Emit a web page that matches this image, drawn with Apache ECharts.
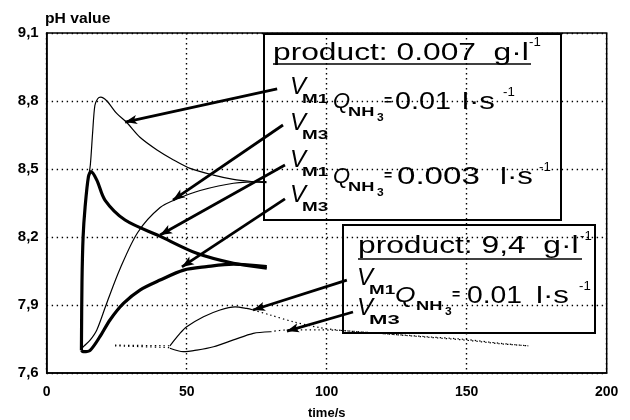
<!DOCTYPE html>
<html>
<head>
<meta charset="utf-8">
<script src="https://cdn.jsdelivr.net/npm/echarts@6/dist/echarts.min.js"></script>
<style>
  html, body { margin: 0; padding: 0; background: #fff; }
  #chart { width: 630px; height: 420px; }
</style>
</head>
<body>
<div id="chart"></div>
<script>
// Axis ranges and ticks
const timeTicks = [0, 50, 100, 150, 200];
const phTicks = [7.6, 7.9, 8.2, 8.5, 8.8, 9.1];

// Product 0.007 g/l, Q_NH3 = 0.01 l/s  — [time s, pH]
const vm1Low010 = [[12.3,7.70],[12.6,7.98],[13.1,8.20],[13.8,8.34],[14.9,8.46],[15.6,8.52],[16.4,8.66],[17.2,8.78],[18.2,8.81],[19.3,8.817],[21.5,8.80],[25,8.745],[28.6,8.705],[33.3,8.64],[39.4,8.584],[45.3,8.54],[51.2,8.503],[59.6,8.473],[66.7,8.454],[73.8,8.444],[78.5,8.44]];
const vm3Low010 = [[12.3,7.70],[13.1,7.716],[15.5,7.745],[17.9,7.79],[21.4,7.907],[26.2,8.06],[32.5,8.22],[40.5,8.33],[47,8.37],[54.8,8.405],[66.7,8.437],[78.5,8.444]];
// Product 0.007 g/l, Q_NH3 = 0.003 l/s
const vm1Low003 = [[12.4,7.70],[12.6,8.0],[13.0,8.2],[13.7,8.33],[14.9,8.466],[15.8,8.488],[17.9,8.451],[20.8,8.363],[28,8.275],[40.2,8.205],[53.6,8.128],[66.7,8.084],[78.6,8.062]];
const vm3Low003 = [[12.4,7.70],[13.1,7.694],[15.5,7.70],[19,7.76],[22.6,7.834],[27.4,7.907],[33.3,7.966],[40.5,8.01],[48.9,8.054],[57.1,8.069],[66.7,8.08],[78.6,8.069]];
// Product 9.4 g/l, Q_NH3 = 0.01 l/s (solid: measured, dotted: lead-in / trend)
const vm1HighLead = [[24.4,7.723],[44,7.72]];
const vm1High = [[44,7.72],[44.7,7.731],[47.6,7.775],[50,7.804],[56,7.848],[61.9,7.878],[67.3,7.892],[71.4,7.885],[73.8,7.878]];
const vm1HighTrend = [[73.8,7.878],[79.8,7.856],[88.1,7.826],[97.6,7.80],[106,7.787],[135.8,7.76],[148.7,7.749],[161.9,7.731],[172,7.72]];
const vm3HighLead = [[24.4,7.72],[44,7.712]];
const vm3High = [[44,7.709],[48.8,7.694],[53.6,7.701],[59.6,7.716],[66.7,7.746],[73.8,7.775],[79.8,7.782]];
const vm3HighTrend = [[79.8,7.782],[85.8,7.79],[97,7.79],[106,7.787],[135.8,7.758],[148.7,7.746],[161.9,7.729],[172,7.72]];

// Pointer arrows: label end -> curve end, in [time, pH]
const arrowFrom = [[82.3,8.853],[84.4,8.694],[85.1,8.518],[85.1,8.368],[107.2,8.010],[109.4,7.869]];
const arrowTo = [[28.0,8.707],[45.1,8.363],[40.5,8.209],[48.3,8.068],[73.7,7.878],[85.8,7.785]];

const FONT = 'Liberation Sans';

function curve(name, data, width, dotted) {
  return {
    name: name,
    type: 'line',
    data: data,
    smooth: 0.3,
    symbol: 'none',
    silent: true,
    lineStyle: { color: '#000', width: width, type: dotted ? [1.4, 3] : 'solid' }
  };
}

function txt(x, y, text, font, sx) {
  return {
    type: 'text', x: x, y: y, scaleX: sx || 1, silent: true,
    style: { text: text, font: font, fill: '#000', textAlign: 'left', textVerticalAlign: 'middle' }
  };
}
function rule(x1, y1, x2, y2, w) {
  return { type: 'line', silent: true, shape: { x1: x1, y1: y1, x2: x2, y2: y2 }, style: { stroke: '#000', lineWidth: w } };
}
function box(x, y, w, h) {
  return { type: 'rect', silent: true, shape: { x: x, y: y, width: w, height: h }, style: { fill: 'none', stroke: '#000', lineWidth: 2 } };
}

const big = '23px ' + FONT;
const ital = 'italic 24px ' + FONT;
const sub = 'bold 13px ' + FONT;
const sub3 = 'bold 10px ' + FONT;
const num = '24px ' + FONT;
const sup = '12px ' + FONT;

function vLabel(x, y, idx, subScale) {
  return [txt(x, y, 'V', ital, 1.0), txt(x + 12, y + 12, 'M' + idx, sub, subScale || 1.45)];
}
// Q_NH3 = value l·s^-1 ; qs widens the Q glyph, dq shifts the subscript/equals sign
function qLabel(x, y, value, valueX, valueScale, unitX, supX, qs, dq) {
  return [
    txt(x, y, 'Q', 'italic 22px ' + FONT, qs),
    txt(x + 15 + dq, y + 10, 'NH', sub, 1.4),
    txt(x + 44 + dq, y + 16, '3', sub3, 1.2),
    txt(x + 51 + dq, y - 1, '=', 'bold 14px ' + FONT, 1.0),
    txt(valueX, y, value, num, valueScale),
    txt(unitX, y, 'l·s', num, 1.3),
    txt(supX, y - 9, '-1', sup, 1.1)
  ];
}

const graphics = [].concat(
  [txt(45, 19, 'pH value', 'bold 14px ' + FONT, 1.12)],
  // upper panel: product 0.007 g/l
  [box(264, 34, 297, 186),
   txt(273, 54, 'product: 0.007  g·l', big, 1.38),
   txt(529, 43, '-1', sup, 1.1),
   rule(273, 64, 531, 64, 1.6)],
  vLabel(290, 87, 1),
  qLabel(333, 102, '0.01', 395, 1.2, 462, 503, 1.0, 0),
  vLabel(290, 123, 3),
  vLabel(290, 160, 1),
  qLabel(333, 177, '0.003', 397, 1.38, 500, 539, 1.0, 0),
  vLabel(290, 195, 3),
  // lower panel: product 9.4 g/l
  [box(343, 225, 252, 108),
   txt(358, 247, 'product: 9,4  g·l', big, 1.38),
   txt(580, 237, '-1', sup, 1.1),
   rule(358, 259, 582, 259, 1.6)],
  vLabel(357, 278, 1),
  qLabel(395, 296, '0.01', 467, 1.18, 536, 579, 1.2, 6),
  vLabel(357, 308, 3, 1.7)
);

const arrowLines = arrowFrom.map(function (p, i) {
  return [{ coord: p }, { coord: arrowTo[i] }];
});

const chart = echarts.init(document.getElementById('chart'), null, { renderer: 'canvas' });
chart.setOption({
  animation: false,
  backgroundColor: '#fff',
  grid: {
    left: 46.7, right: 23.3, top: 33, bottom: 47,
    outerBoundsMode: 'none', containLabel: false,
    show: true, borderColor: '#000', borderWidth: 1.5, backgroundColor: 'transparent'
  },
  xAxis: {
    type: 'value', min: timeTicks[0], max: timeTicks[timeTicks.length - 1], interval: 50,
    name: 'time/s', nameLocation: 'middle', nameGap: 34,
    nameTextStyle: { color: '#000', fontFamily: FONT, fontWeight: 'bold', fontSize: 13 },
    axisLine: { show: true, lineStyle: { color: '#000', width: 1.5 } },
    axisTick: { show: false },
    axisLabel: { color: '#000', fontFamily: FONT, fontWeight: 'bold', fontSize: 14, margin: 12 },
    splitLine: { show: true, lineStyle: { color: '#000', width: 1.4, type: [1.4, 3.6] } }
  },
  yAxis: {
    type: 'value', min: phTicks[0], max: phTicks[phTicks.length - 1], interval: 0.3,
    axisLine: { show: true, lineStyle: { color: '#000', width: 1.5 } },
    axisTick: { show: false },
    axisLabel: {
      color: '#000', fontFamily: FONT, fontWeight: 'bold', fontSize: 15, margin: 8,
      formatter: function (v) { return v.toFixed(1).replace('.', ','); }
    },
    splitLine: { show: true, lineStyle: { color: '#000', width: 1.4, type: [1.4, 3.6] } }
  },
  series: [
    curve('VM1 0.01', vm1Low010, 1.2, false),
    curve('VM3 0.01', vm3Low010, 1.2, false),
    curve('VM1 0.003', vm1Low003, 3.2, false),
    curve('VM3 0.003', vm3Low003, 3.2, false),
    curve('VM1 9.4 lead', vm1HighLead, 1.2, true),
    curve('VM1 9.4', vm1High, 1.2, false),
    curve('VM1 9.4 trend', vm1HighTrend, 1.2, true),
    curve('VM3 9.4 lead', vm3HighLead, 1.2, true),
    curve('VM3 9.4', vm3High, 1.2, false),
    curve('VM3 9.4 trend', vm3HighTrend, 1.2, true),
    {
      name: 'pointers', type: 'line', data: [], silent: true,
      markLine: {
        silent: true, animation: false,
        symbol: ['none', 'arrow'], symbolSize: [7, 12],
        label: { show: false },
        lineStyle: { color: '#000', width: 2.8, type: 'solid' },
        emphasis: { disabled: true },
        data: arrowLines
      }
    }
  ],
  graphic: graphics
});
</script>
</body>
</html>
